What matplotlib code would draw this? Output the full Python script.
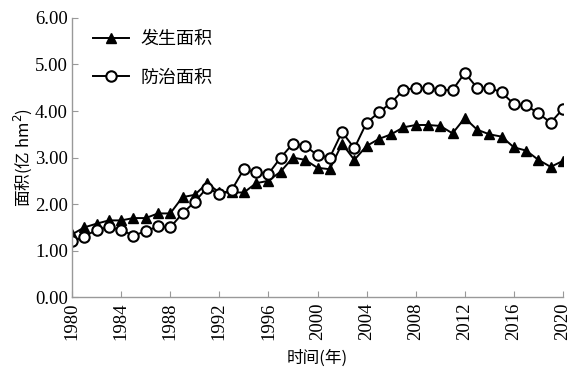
import numpy as np
import matplotlib.pyplot as plt

years = list(range(1980, 2021))
occur = [1.35, 1.50, 1.58, 1.65, 1.65, 1.70, 1.70, 1.80, 1.80, 2.15,
         2.20, 2.45, 2.25, 2.25, 2.25, 2.45, 2.50, 2.70, 3.00, 2.95,
         2.78, 2.75, 3.30, 2.95, 3.25, 3.40, 3.50, 3.65, 3.70, 3.70,
         3.68, 3.52, 3.85, 3.60, 3.50, 3.45, 3.22, 3.15, 2.95, 2.80,
         2.93]
control = [1.20, 1.30, 1.45, 1.50, 1.45, 1.32, 1.42, 1.52, 1.50, 1.80,
           2.05, 2.35, 2.22, 2.30, 2.75, 2.68, 2.65, 3.00, 3.30, 3.25,
           3.05, 3.00, 3.55, 3.20, 3.75, 3.97, 4.18, 4.45, 4.50, 4.50,
           4.45, 4.45, 4.82, 4.50, 4.50, 4.40, 4.15, 4.12, 3.95, 3.75,
           4.05]
xticks = list(range(1980, 2021, 4))
yticks = [0, 1, 2, 3, 4, 5, 6]

serif = ['Liberation Serif', 'Noto Sans CJK SC']
cjk = ['Noto Sans CJK SC', 'Liberation Serif']

fig = plt.figure(figsize=(5.81, 3.82), dpi=100)
ax = fig.add_axes([0.124, 0.222, 0.845, 0.731])

ax.plot(years, occur, '-', color='black', lw=1.4, marker='^', ms=7,
        mfc='black', mec='black', label='发生面积')
ax.plot(years, control, '-', color='black', lw=1.4, marker='o', ms=7.5,
        mfc='white', mec='black', mew=1.5, label='防治面积')

ax.set_xlim(1980, 2020)
ax.set_ylim(0, 6)
ax.set_xticks(xticks)
ax.set_yticks(yticks)
ax.set_xticklabels([str(x) for x in xticks], rotation=90, family=serif, fontsize=13.5)
ax.set_yticklabels(['%.2f' % y for y in yticks], family=serif, fontsize=13.5)
ax.tick_params(direction='in', color='#999999', length=4, width=0.8)
ax.tick_params(axis='x', pad=4)
ax.tick_params(axis='y', pad=3)

for s in ['top', 'right']:
    ax.spines[s].set_visible(False)
for s in ['left', 'bottom']:
    ax.spines[s].set_color('#999999')
    ax.spines[s].set_linewidth(1.0)

ax.set_xlabel('时间(年)', family=cjk, fontsize=12, labelpad=7)
ax.set_ylabel('面积(亿 hm$^2$)', family=cjk, fontsize=12, labelpad=1)

leg = ax.legend(loc='upper left', frameon=False, prop={'family': cjk, 'size': 13},
                handlelength=2.0, handletextpad=0.6, labelspacing=1.15,
                bbox_to_anchor=(0.01, 1.015))

fig.savefig('out.png', dpi=100)
